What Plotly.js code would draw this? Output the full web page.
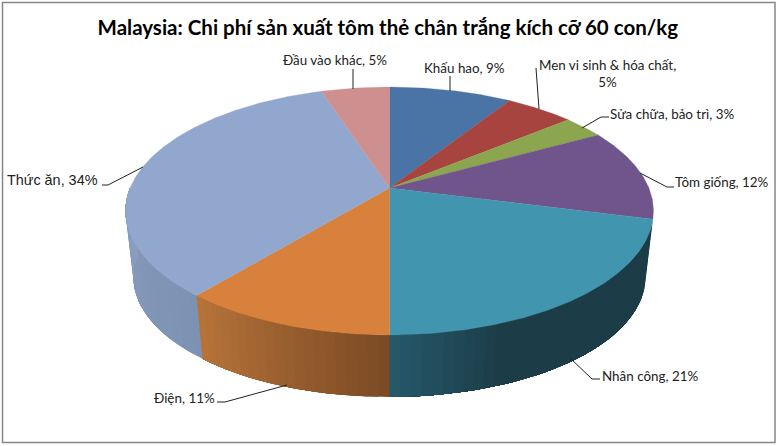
<!DOCTYPE html>
<html><head><meta charset="utf-8">
<script src="https://cdn.plot.ly/plotly-3.0.1.min.js"></script>
<style>html,body{margin:0;padding:0;background:#fff}</style>
</head><body><div id="chart" style="width:778px;height:446px"></div>
<script>
// Data, clockwise from 12 o'clock
const categories = ["Khấu hao","Men vi sinh & hóa chất","Sửa chữa, bảo trì","Tôm giống","Nhân công","Điện","Thức ăn","Đầu vào khác"];
const shares = [9,5,3,12,21,11,34,5];
const labelLines = ["Khấu hao, 9%","Men vi sinh & hóa chất,<br>5%","Sửa chữa, bảo trì, 3%","Tôm giống, 12%","Nhân công, 21%","Điện, 11%","Thức ăn, 34%","Đầu vào khác, 5%"];
const topColors = ["#4a73a6","#a8443f","#8ba64e","#70558d","#4195ae","#d8813c","#92a7cd","#cd908f"];
// wall shading: [colour at slice start, colour at slice end]
const wallColors = {4:["#1c3c47","#25596b"],5:["#7a4a24","#b8743a"],6:["#7c92b2","#8a9ec0"]};

const cx=389.5, k=0.1855;
function project(deg, top){
  const t=deg*Math.PI/180, X=Math.sin(t), Y=Math.cos(t), d=1+k*Y;
  const s=top?1:0.97, y0=top?188:254.4;
  return [cx+s*259.4*X/d, y0-s*119.7*Y/d];
}
function mix(a,b,f){
  const p=c=>[1,3,5].map(i=>parseInt(c.substr(i,2),16));
  const A=p(a),B=p(b);
  return "rgb("+A.map((v,i)=>Math.round(v+(B[i]-v)*f)).join(",")+")";
}
const total=shares.reduce((a,b)=>a+b,0);
const traces=[];
function poly(xs,ys,color,lw){
  traces.push({type:"scatter",mode:"lines",x:xs,y:ys,fill:"toself",fillcolor:color,
    line:{color:color,width:lw},hoverinfo:"skip",showlegend:false});
}
let cum=0; const spans=shares.map(v=>{const a=cum/total*360; cum+=v; return [a,cum/total*360];});
// side wall strips: each strip overlaps the next, so no seams show
spans.forEach((sp,i)=>{
  if(!wallColors[i]) return;
  const a=Math.max(sp[0],90), b=Math.min(sp[1],270), step=2;
  const n=Math.ceil((b-a)/step);
  for(let j=0;j<n;j++){
    const d0=a+(b-a)*j/n, d1=b;
    let f=(j+0.5)/n;
    if(i===4) f=Math.max(0,(f-0.72)/0.28);
    const c=mix(wallColors[i][0],wallColors[i][1],f);
    const xs=[],ys=[];
    for(let m=0;m<=n-j;m++){const q=project(d0+(d1-d0)*m/(n-j),true);xs.push(q[0]);ys.push(q[1]);}
    for(let m=n-j;m>=0;m--){const q=project(d0+(d1-d0)*m/(n-j),false);xs.push(q[0]);ys.push(q[1]);}
    poly(xs,ys,c,0);
  }
});
// top faces
spans.forEach((sp,i)=>{
  const xs=[cx],ys=[188];
  const n=Math.ceil(sp[1]-sp[0])*2;
  for(let j=0;j<=n;j++){const q=project(sp[0]+(sp[1]-sp[0])*j/n,true);xs.push(q[0]);ys.push(q[1]);}
  xs.push(cx);ys.push(188);
  poly(xs,ys,topColors[i],0.3);
});
const labelPos=[[464,68],[607.5,73],[672,114],[722,182],[649.5,376],[184.5,398],[52.5,180],[335,59.5]];
const leaders=["M450,76 L450,91","M536,68 L539,109","M582,128 L601,117 L609,117","M640,173 L667,187 L674,187",
 "M570,358 L592,379 L600,379","M287,385 L225,402 L217,402","M143,167 L108,185 L102,185","M353,69 L353,89"];
const annotations=labelLines.map((t,i)=>({x:labelPos[i][0],y:labelPos[i][1],xref:"x",yref:"y",text:t,showarrow:false,
  xanchor:"center",yanchor:"middle",align:"center",
  font:i===6?{family:"Liberation Sans",size:14.4,color:"#222"}:{family:"Lato, 'Noto Sans'",size:13.4,color:"#222"}}));
const shapes=leaders.map(p=>({type:"path",path:p,xref:"x",yref:"y",line:{color:"#222",width:1}}));
shapes.push({type:"rect",xref:"x",yref:"y",x0:2.5,x1:775,y0:2.5,y1:442.5,line:{color:"#868686",width:1.5},fillcolor:"rgba(0,0,0,0)"});
Plotly.newPlot("chart",traces,{
  width:778,height:446,margin:{l:0,r:0,t:0,b:0},paper_bgcolor:"#fff",plot_bgcolor:"#fff",
  title:{text:"<b>Malaysia: Chi phí sản xuất tôm thẻ chân trắng kích cỡ 60 con/kg</b>",
    font:{family:"Lato, 'Noto Sans'",size:20.5,color:"#000"},x:0.4985,xanchor:"center",y:1-28/446,yanchor:"middle"},
  xaxis:{range:[0,778],visible:false,fixedrange:true},
  yaxis:{range:[446,0],visible:false,fixedrange:true},
  showlegend:false,annotations:annotations,shapes:shapes
},{displayModeBar:false,staticPlot:true});
</script></body></html>
